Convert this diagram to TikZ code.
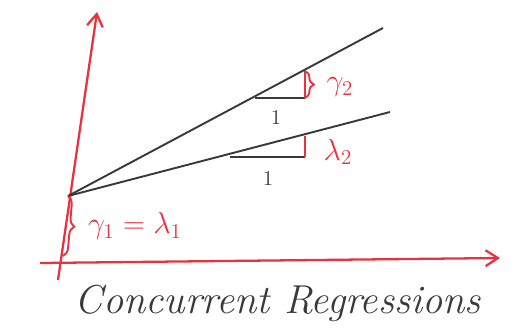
\documentclass[tikz,border=0pt]{standalone}
\usetikzlibrary{arrows.meta,decorations.pathreplacing}
\definecolor{pen}{HTML}{E8323F}
\definecolor{ink}{HTML}{3A3A3A}
\begin{document}
\begin{tikzpicture}[x=0.02cm,y=-0.02cm,
  axis/.style={pen,line width=1.3pt,-{Straight Barb[length=7pt,width=9pt]}},
  reg/.style={ink,line width=1.1pt},
  base/.style={ink,line width=1.1pt},
  rise/.style={pen,line width=1.1pt},
  lbl/.style={pen,font=\LARGE},
  unit/.style={ink,font=\large},
  brc/.style={pen,line width=1.1pt,decorate,decoration={brace,amplitude=5pt}}]
\useasboundingbox (0,0) rectangle (521,335);
\coordinate (ybot) at (58,280);
\coordinate (ytop) at (97,12);
\coordinate (xl) at (40,263);
\coordinate (xr) at (500,258);
\coordinate (O) at (68,196);
\coordinate (ua) at (383,28);
\coordinate (la) at (390,112);
\coordinate (u0) at (255,98);
\coordinate (u1) at (305,98);
\coordinate (u2) at (305,71);
\coordinate (l0) at (230,157);
\coordinate (l1) at (305,157);
\coordinate (l2) at (305,136);
\coordinate (b0) at (63,256);
\draw[axis] (ybot) -- (ytop);
\draw[axis] (xl) -- (xr);
\draw[reg] (O) -- (ua);
\draw[reg] (O) -- (la);
\draw[base] (u0) -- (u1);
\draw[base] (l0) -- (l1);
\draw[rise] (u1) -- (u2);
\draw[rise] (l1) -- (l2);
\draw[brc] (u2) -- (u1);
\draw[brc] (O) -- (b0);
\node[lbl] (g2) at (340,87) {$\gamma_2$};
\node[lbl] (l2t) at (338,152) {$\lambda_2$};
\node[lbl] (g1) at (135,226) {$\gamma_1=\lambda_1$};
\node[unit] (one1) at (276,117) {1};
\node[unit] (one2) at (268,178) {1};
\node[ink,font=\fontsize{23}{27}\selectfont\itshape] (cap) at (278,303) {Concurrent Regressions};
\end{tikzpicture}
\end{document}
